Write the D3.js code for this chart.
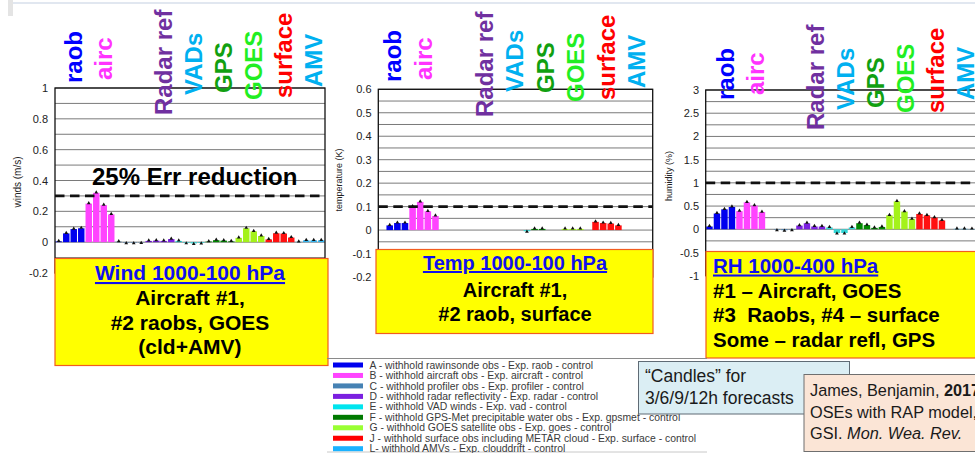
<!DOCTYPE html>
<html>
<head>
<meta charset="utf-8">
<script src="https://cdn.jsdelivr.net/npm/d3@7"></script>
<style>
  html, body { margin: 0; padding: 0; background: #fff; }
  svg { display: block; }
  text { font-family: "Liberation Sans", Arial, sans-serif; }
</style>
</head>
<body>
<svg id="chart" width="975" height="453"></svg>
<script>
// ---------------- DATA ----------------
const experiments = ["A", "B", "C", "D", "E", "F", "G", "J", "L"];
const leads = ["3h", "6h", "9h", "12h"];
const topLabels = ["raob", "airc", null, "Radar ref", "VADs", "GPS", "GOES", "surface", "AMV"];

// Wind 1000-100 hPa error reduction (m/s), 4 lead times per experiment
const windA = [0.005, 0.057, 0.085, 0.09];
const windB = [0.25, 0.32, 0.24, 0.18];
const windC = [0.003, -0.003, -0.003, -0.002];
const windD = [0.008, 0.01, 0.008, 0.02];
const windE = [0.008, -0.004, -0.008, -0.005];
const windF = [0.004, 0.013, 0.01, 0.005];
const windG = [0.028, 0.09, 0.07, 0.04];
const windJ = [0.018, 0.058, 0.056, 0.03];
const windL = [0.002, 0.012, 0.012, 0.012];

// Temp 1000-100 hPa (K)
const tempA = [0.0, 0.02, 0.03, 0.03];
const tempB = [0.1, 0.12, 0.08, 0.06];
const tempC = [0, 0, 0, 0];
const tempD = [0, 0, 0, 0];
const tempE = [0, 0, 0, -0.005];
const tempF = [0.005, 0.005, 0, 0];
const tempG = [0.005, 0.005, 0.005, 0];
const tempJ = [0.035, 0.03, 0.028, 0.02];
const tempL = [0, 0, 0, 0];

// RH 1000-400 hPa (%)
const rhA = [0.06, 0.34, 0.43, 0.48];
const rhB = [0.39, 0.58, 0.51, 0.37];
const rhC = [0.0, -0.01, -0.02, -0.01];
const rhD = [0.08, 0.13, 0.06, 0.06];
const rhE = [0.04, -0.08, -0.08, 0.04];
const rhF = [0.13, 0.09, 0.03, 0.05];
const rhG = [0.3, 0.6, 0.38, 0.22];
const rhJ = [0.33, 0.3, 0.25, 0.19];
const rhL = [0.0, 0.01, 0.01, 0.005];

const windTicks = [-0.2, 0, 0.2, 0.4, 0.6, 0.8, 1];
const tempTicks = [-0.2, -0.1, 0, 0.1, 0.2, 0.3, 0.4, 0.5, 0.6];
const rhTicks = [-1, -0.5, 0, 0.5, 1, 1.5, 2, 2.5, 3];

const refValues = [0.3, 0.1, 1.0];   // 25% error reduction lines

const legendLabels = [
  "A - withhold rawinsonde obs - Exp. raob - control",
  "B - withhold aircraft obs - Exp. aircraft - control",
  "C - withhold profiler obs - Exp. profiler - control",
  "D - withhold radar reflectivity - Exp. radar - control",
  "E - withhold VAD winds - Exp. vad - control",
  "F - withhold GPS-Met precipitable water obs - Exp. gpsmet - control",
  "G - withhold GOES satellite obs - Exp. goes - control",
  "J - withhold surface obs including METAR cloud - Exp. surface - control",
  "L- withhold AMVs - Exp. clouddrift - control"
];

// ---------------- STYLE / LAYOUT ----------------
const barColors = ["#0000ee", "#ff44ff", "#4682b4", "#7b1fe0", "#33d6d6", "#008a00", "#a4f21a", "#ff1010", "#33b5f0"];
const legendColors = ["#0000ee", "#ff44ff", "#4682b4", "#7b1fe0", "#00e5ee", "#007a00", "#99ff33", "#ff0000", "#1ab2ff"];
const labelColors = ["#0000ff", "#ff33ff", null, "#7030a0", "#00b0f0", "#11a011", "#22ee22", "#ff0000", "#00b0f0"];

const panels = [
  {
    values: [windA, windB, windC, windD, windE, windF, windG, windJ, windL],
    ticks: windTicks, ref: refValues[0],
    x0: 55, x1: 325, yDom: [-0.2, 1], yRng: [273, 88],
    axisTitle: "winds (m/s)", titleX: 17, titleY: 182, titleSize: 10,
    tickRight: 48,
    labelDx: 3, labelBottoms: [83, 80, null, 115, 95, 93, 100, 98, 87],
    box: { x: 55, y: 258.5, w: 273, h: 107, align: "middle", cx: 190,
           lines: ["Wind 1000-100 hPa", "Aircraft #1,", "#2 raobs, GOES", "(cld+AMV)"],
           baselines: [280, 305, 330, 354], size: 21 }
  },
  {
    values: [tempA, tempB, tempC, tempD, tempE, tempF, tempG, tempJ, tempL],
    ticks: tempTicks, ref: refValues[1],
    x0: 378.3, x1: 652.7, yDom: [-0.2, 0.6], yRng: [277, 89.3],
    axisTitle: "temperature (K)", titleX: 339, titleY: 180, titleSize: 9,
    tickRight: 371.5,
    labelDx: -1, labelBottoms: [82, 80, null, 117, 92, 93, 102, 100, 88],
    box: { x: 376, y: 249.5, w: 277, h: 84, align: "middle", cx: 515,
           lines: ["Temp 1000-100 hPa", "Aircraft #1,", "#2 raob, surface"],
           baselines: [270, 296.5, 320.5], size: 20 }
  },
  {
    values: [rhA, rhB, rhC, rhD, rhE, rhF, rhG, rhJ, rhL],
    ticks: rhTicks, ref: refValues[2],
    x0: 705.7, x1: 975.7, yDom: [-1, 3], yRng: [275.7, 90],
    axisTitle: "humidity (%)", titleX: 669, titleY: 176, titleSize: 9,
    tickRight: 699,
    labelDx: 5, labelBottoms: [100, 95, null, 130, 110, 108, 113, 113, 100],
    box: { x: 706, y: 251.5, w: 275, h: 106.5, align: "start", tx: 713,
           lines: ["RH 1000-400 hPa", "#1 \u2013 Aircraft, GOES", "#3  Raobs, #4 \u2013 surface", "Some \u2013 radar refl, GPS"],
           baselines: [272.5, 298, 321.5, 346.5], size: 20.5 }
  }
];

const svg = d3.select("#chart");

// faint slide chrome at the very top
svg.append("rect").attr("x", 8).attr("y", 0).attr("width", 5).attr("height", 16).attr("fill", "#e4e4e4");
svg.append("line").attr("x1", 13).attr("x2", 975).attr("y1", 3).attr("y2", 3)
  .attr("stroke", "#c3d0e2").attr("stroke-width", 1.2);

const fmt = d => String(+d.toFixed(2));

panels.forEach(p => {
  const g = svg.append("g");
  const y = d3.scaleLinear().domain(p.yDom).range(p.yRng);
  const keys = [];
  experiments.forEach(e => leads.forEach(l => keys.push(e + "-" + l)));
  const x = d3.scaleBand().domain(keys).range([p.x0, p.x1]).paddingInner(0.14).paddingOuter(0.07);
  const groupX = d3.scaleBand().domain(experiments).range([p.x0, p.x1]);

  // grid (major ticks + midpoints)
  const grid = [];
  p.ticks.forEach((t, i) => {
    grid.push(t);
    if (i < p.ticks.length - 1) grid.push((t + p.ticks[i + 1]) / 2);
  });
  g.append("g").selectAll("line").data(grid).join("line")
    .attr("x1", p.x0).attr("x2", p.x1)
    .attr("y1", d => y(d)).attr("y2", d => y(d))
    .attr("stroke", "#7a7a7a").attr("stroke-width", 1);

  // bars
  const bars = [];
  experiments.forEach((e, i) => leads.forEach((l, j) => {
    bars.push({ key: e + "-" + l, v: p.values[i][j], c: barColors[i] });
  }));
  g.append("g").selectAll("rect").data(bars).join("rect")
    .attr("x", d => x(d.key))
    .attr("width", x.bandwidth())
    .attr("y", d => Math.min(y(d.v), y(0)))
    .attr("height", d => Math.abs(y(d.v) - y(0)))
    .attr("fill", d => d.c);

  // candle tips (only where a value was plotted)
  g.append("g").selectAll("path").data(bars.filter(d => d.v !== 0)).join("path")
    .attr("transform", d => `translate(${x(d.key) + x.bandwidth() / 2},${y(d.v) - (d.v >= 0 ? 0.5 : -0.5)})`)
    .attr("d", d3.symbol(d3.symbolTriangle, 6))
    .attr("fill", "#111");

  // dashed reference line
  g.append("line")
    .attr("x1", p.x0).attr("x2", p.x1)
    .attr("y1", y(p.ref)).attr("y2", y(p.ref))
    .attr("stroke", "#111").attr("stroke-width", 2.6)
    .attr("stroke-dasharray", "9.5,5.5");

  // frame
  g.append("rect")
    .attr("x", p.x0).attr("y", y(p.yDom[1]))
    .attr("width", p.x1 - p.x0).attr("height", y(p.yDom[0]) - y(p.yDom[1]))
    .attr("fill", "none").attr("stroke", "#111").attr("stroke-width", 1.3);

  // y axis tick labels
  const axis = d3.axisLeft(y).tickValues(p.ticks).tickSize(0).tickPadding(0).tickFormat(fmt);
  const ag = g.append("g").attr("transform", `translate(${p.tickRight},0)`).call(axis);
  ag.select(".domain").remove();
  ag.selectAll("text").attr("font-size", 11).attr("fill", "#222")
    .attr("font-family", "'Liberation Sans', Arial, sans-serif");

  // axis title
  g.append("text")
    .attr("transform", `translate(${p.titleX},${p.titleY}) rotate(-90)`)
    .attr("text-anchor", "middle").attr("dy", "0.35em")
    .attr("font-size", p.titleSize).attr("fill", "#222")
    .text(p.axisTitle);

  // rotated category labels on top
  topLabels.forEach((lab, i) => {
    if (!lab) return;
    const cx = groupX(experiments[i]) + groupX.bandwidth() / 2 + p.labelDx;
    g.append("text")
      .attr("transform", `translate(${cx},${p.labelBottoms[i]}) rotate(-90)`)
      .attr("dy", "0.36em")
      .attr("font-size", 24).attr("font-weight", "bold")
      .attr("fill", labelColors[i])
      .text(lab);
  });

  // yellow annotation box
  const b = p.box;
  g.append("rect").attr("x", b.x).attr("y", b.y).attr("width", b.w).attr("height", b.h)
    .attr("fill", "#ffff00").attr("stroke", "#f25c1f").attr("stroke-width", 1.2);
  b.lines.forEach((t, i) => {
    const tx = g.append("text")
      .attr("x", b.align === "middle" ? b.cx : b.tx)
      .attr("y", b.baselines[i])
      .attr("text-anchor", b.align)
      .attr("font-size", b.size).attr("font-weight", "bold")
      .attr("fill", i === 0 ? "#1010ee" : "#000")
      .style("white-space", "pre")
      .text(t);
    if (i === 0) tx.attr("text-decoration", "underline");
  });
});

// "25% Err reduction"
svg.append("text").attr("x", 92).attr("y", 185)
  .attr("font-size", 24).attr("font-weight", "bold").attr("fill", "#000")
  .text("25% Err reduction");

// ---------------- LEGEND ----------------
svg.append("line").attr("x1", 327).attr("x2", 707).attr("y1", 358.5).attr("y2", 358.5)
  .attr("stroke", "#8a8a8a").attr("stroke-width", 1);
svg.append("line").attr("x1", 327).attr("x2", 707).attr("y1", 452).attr("y2", 452)
  .attr("stroke", "#c8c8c8").attr("stroke-width", 1);

const leg = svg.append("g");
const legY = d3.scalePoint().domain(d3.range(legendLabels.length)).range([365, 448.7]);
legendLabels.forEach((t, i) => {
  leg.append("rect").attr("x", 333).attr("y", legY(i) - 2.5).attr("width", 30).attr("height", 5)
    .attr("fill", legendColors[i]);
  leg.append("text").attr("x", 369.5).attr("y", legY(i)).attr("dy", "0.35em")
    .attr("font-size", 10.4).attr("fill", "#3a3a3a").text(t);
});

// "Candles" note
svg.append("rect").attr("x", 638.5).attr("y", 361.5).attr("width", 211).attr("height", 52.5)
  .attr("fill", "#dbeef4").attr("stroke", "#5f6b75").attr("stroke-width", 1);
svg.append("text").attr("x", 645).attr("y", 382).attr("font-family", "Lato, 'Open Sans', sans-serif")
  .attr("font-size", 17.5).attr("fill", "#1a1a1a").text("\u201CCandles\u201D for");
svg.append("text").attr("x", 645).attr("y", 403.5).attr("font-family", "Lato, 'Open Sans', sans-serif")
  .attr("font-size", 17.5).attr("fill", "#1a1a1a").text("3/6/9/12h forecasts");

// reference note
svg.append("rect").attr("x", 804).attr("y", 374.5).attr("width", 180).attr("height", 77)
  .attr("fill", "#fbe5d6").attr("stroke", "#6f6f6f").attr("stroke-width", 1);
const refT = svg.append("g").attr("font-family", "Lato, 'Open Sans', sans-serif")
  .attr("font-size", 16.3).attr("fill", "#1a1a1a");
const r1 = refT.append("text").attr("x", 810).attr("y", 396);
r1.append("tspan").text("James, Benjamin, ");
r1.append("tspan").attr("font-weight", "bold").text("2017");
refT.append("text").attr("x", 810).attr("y", 417.5).text("OSEs with RAP model,");
const r3 = refT.append("text").attr("x", 810).attr("y", 439);
r3.append("tspan").text("GSI. ");
r3.append("tspan").attr("font-style", "italic").text("Mon. Wea. Rev.");
</script>
</body>
</html>
